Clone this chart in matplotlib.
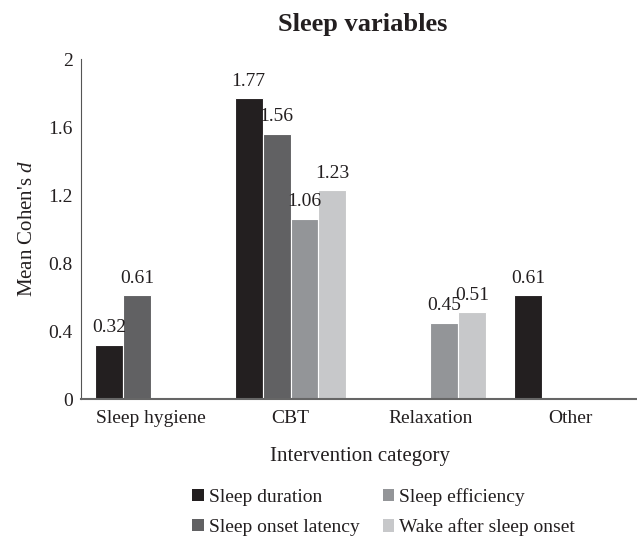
import matplotlib
matplotlib.use("Agg")
import matplotlib.pyplot as plt
import numpy as np
from matplotlib.patches import Patch

plt.rcParams["font.family"] = ["Liberation Serif", "DejaVu Serif"]
plt.rcParams["mathtext.fontset"] = "custom"
plt.rcParams["mathtext.rm"] = "Liberation Serif"
plt.rcParams["mathtext.it"] = "Liberation Serif:italic"

categories = ["Sleep hygiene", "CBT", "Relaxation", "Other"]
series_names = ["Sleep duration", "Sleep onset latency",
                "Sleep efficiency", "Wake after sleep onset"]
# NaN = no studies in that category
sleep_duration = [0.32, 1.77, np.nan, 0.61]
sleep_onset_latency = [0.61, 1.56, np.nan, np.nan]
sleep_efficiency = [np.nan, 1.06, 0.45, np.nan]
wake_after_onset = [np.nan, 1.23, 0.51, np.nan]
yticks = [0, 0.4, 0.8, 1.2, 1.6, 2]
ytick_labels = ["0", "0.4", "0.8", "1.2", "1.6", "2"]

colors = ["#231f20", "#616163", "#939598", "#c7c8ca"]
values = [sleep_duration, sleep_onset_latency, sleep_efficiency, wake_after_onset]

fig = plt.figure(figsize=(6.37, 5.39), dpi=100)
ax = fig.add_axes([81 / 637, 140 / 539, 556 / 637, 340 / 539])

x = np.arange(len(categories))
width = 0.2
for k, (vals, color) in enumerate(zip(values, colors)):
    pos = x + (k - 1.5) * width
    vals = np.array(vals, dtype=float)
    ok = ~np.isnan(vals)
    bars = ax.bar(pos[ok], vals[ok], width, color=color, edgecolor="white", linewidth=0.8)
    for b, v in zip(bars, vals[ok]):
        ax.annotate(f"{v:.2f}", (b.get_x() + b.get_width() / 2, v),
                    xytext=(0, 6), textcoords="offset points",
                    ha="center", va="bottom", fontsize=14, color="#231f20")

ax.set_xlim(-0.5, 3.48)
ax.set_ylim(0, 2)
ax.set_yticks(yticks)
ax.set_yticklabels(ytick_labels)
ax.set_xticks(x)
ax.set_xticklabels(categories)
ax.tick_params(axis="both", length=0, labelsize=14, colors="#231f20")
ax.tick_params(axis="y", pad=6)
ax.tick_params(axis="x", pad=8)
for s in ["top", "right"]:
    ax.spines[s].set_visible(False)
ax.spines["left"].set_color("#555555")
ax.spines["left"].set_linewidth(0.8)
ax.spines["bottom"].set_color("#666666")
ax.spines["bottom"].set_linewidth(1.5)

ax.set_ylabel("Mean Cohen's $d$", fontsize=15, color="#231f20", labelpad=8)
fig.text(360 / 637, 1 - 457 / 539, "Intervention category", fontsize=15,
         ha="center", va="center", color="#231f20")
fig.text(363 / 637, 1 - 25 / 539, "Sleep variables", fontsize=19, fontweight="bold",
         ha="center", va="center", color="#231f20")

handles = [Patch(facecolor=c, edgecolor="none") for c in colors]
fig.legend(handles, series_names, ncol=2, frameon=False, fontsize=14,
           loc="upper left", bbox_to_anchor=(192 / 637, 1 - 488 / 539),
           borderpad=0, borderaxespad=0, handlelength=0.6, handleheight=0.6,
           handletextpad=0.25, columnspacing=1.2, labelspacing=0.65,
           labelcolor="#231f20")

fig.savefig("out.png", dpi=100)
